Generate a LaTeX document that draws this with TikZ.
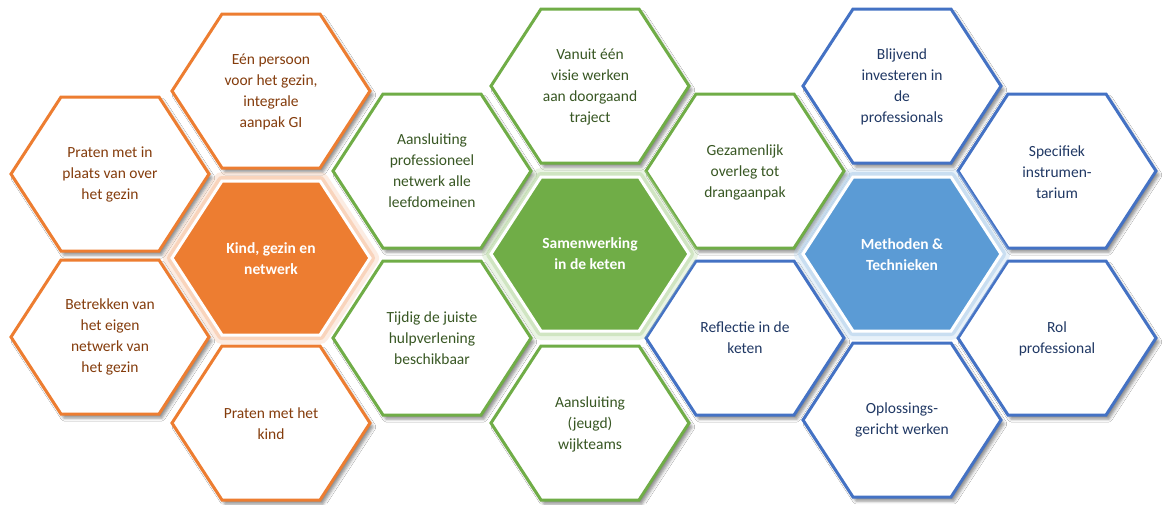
\documentclass[tikz,border=0pt]{standalone}
\usepackage{fontspec}
\setmainfont{Carlito}
\usetikzlibrary{shadows.blur}
\definecolor{orB}{HTML}{ED7D31}
\definecolor{orT}{HTML}{843C0C}
\definecolor{orL}{HTML}{F8CBAD}
\definecolor{grB}{HTML}{70AD47}
\definecolor{grT}{HTML}{385723}
\definecolor{grL}{HTML}{C5E0B4}
\definecolor{blB}{HTML}{4472C4}
\definecolor{blF}{HTML}{5B9BD5}
\definecolor{blT}{HTML}{203864}
\definecolor{blL}{HTML}{BDD7EE}
\tikzset{
  pics/hexa/.style={code={\path[#1] (-99,0) -- (-49,-77) -- (49,-77) -- (99,0) -- (49,77) -- (-49,77) -- cycle;}},
  outhex/.style={draw=#1, line width=3pt, fill=white, line join=miter,
    blur shadow={shadow xshift=3pt, shadow yshift=-4pt, shadow blur radius=3pt, shadow opacity=45}},
  glowhex/.style={draw=#1, line width=18pt, draw opacity=0.35, line join=round},
  glowhexb/.style={draw=#1, line width=10pt, draw opacity=0.7, line join=round},
  cenhex/.style={draw=white, line width=3pt, fill=#1, line join=miter},
  txt/.style={text=#1, align=center, font=\fontsize{15.5}{21}\selectfont, inner sep=0pt},
  ctxt/.style={text=white, align=center, font=\bfseries\fontsize{15.5}{21}\selectfont, inner sep=0pt},
}
\begin{document}
\begin{tikzpicture}[x=1pt, y=-1pt]
\useasboundingbox (0,0) rectangle (1172,504);
\fill[white] (0,0) rectangle (1172,504);
% outer hexagons
\pic at (110,174) {hexa={outhex=orB}};
\pic at (110,337) {hexa={outhex=orB}};
\pic at (271,91) {hexa={outhex=orB}};
\pic at (271,423) {hexa={outhex=orB}};
\pic at (432,171) {hexa={outhex=grB}};
\pic at (432,338) {hexa={outhex=grB}};
\pic at (590,86) {hexa={outhex=grB}};
\pic at (590,423) {hexa={outhex=grB}};
\pic at (745,171) {hexa={outhex=grB}};
\pic at (745,338) {hexa={outhex=blB}};
\pic at (902,86) {hexa={outhex=blB}};
\pic at (902,420) {hexa={outhex=blB}};
\pic at (1057,171) {hexa={outhex=blB}};
\pic at (1057,338) {hexa={outhex=blB}};
% central hexagons
\pic at (271,258) {hexa={glowhex=orL}};
\pic at (271,258) {hexa={glowhexb=orL}};
\pic at (271,258) {hexa={cenhex=orB}};
\pic at (590,254) {hexa={glowhex=grL}};
\pic at (590,254) {hexa={glowhexb=grL}};
\pic at (590,254) {hexa={cenhex=grB}};
\pic at (902,254) {hexa={glowhex=blL}};
\pic at (902,254) {hexa={glowhexb=blL}};
\pic at (902,254) {hexa={cenhex=blF}};
% texts
\node[txt=orT] (a1) at (110,174) {Praten met in\\plaats van over\\het gezin};
\node[txt=orT] (a2) at (110,337) {Betrekken van\\het eigen\\netwerk van\\het gezin};
\node[txt=orT] (b1) at (271,92) {Eén persoon\\voor het gezin,\\integrale\\aanpak GI};
\node[ctxt] (b2) at (271,259) {Kind, gezin en\\netwerk};
\node[txt=orT] (b3) at (271,424) {Praten met het\\kind};
\node[txt=grT] (c1) at (432,171) {Aansluiting\\professioneel\\netwerk alle\\leefdomeinen};
\node[txt=grT] (c2) at (432,338) {Tijdig de juiste\\hulpverlening\\beschikbaar};
\node[txt=grT] (d1) at (590,87) {Vanuit één\\visie werken\\aan doorgaand\\traject};
\node[ctxt] (d2) at (590,254) {Samenwerking\\in de keten};
\node[txt=grT] (d3) at (590,424) {Aansluiting\\(jeugd)\\wijkteams};
\node[txt=grT] (e1) at (745,172) {Gezamenlijk\\overleg tot\\drangaanpak};
\node[txt=blT] (e2) at (745,338) {Reflectie in de\\keten};
\node[txt=blT] (f1) at (902,87) {Blijvend\\investeren in\\de\\professionals};
\node[ctxt] (f2) at (902,255) {Methoden \&\\Technieken};
\node[txt=blT] (f3) at (902,420) {Oplossings-\\gericht werken};
\node[txt=blT] (g1) at (1057,172) {Specifiek\\instrumen-\\tarium};
\node[txt=blT] (g2) at (1057,339) {Rol\\professional};
\end{tikzpicture}
\end{document}
